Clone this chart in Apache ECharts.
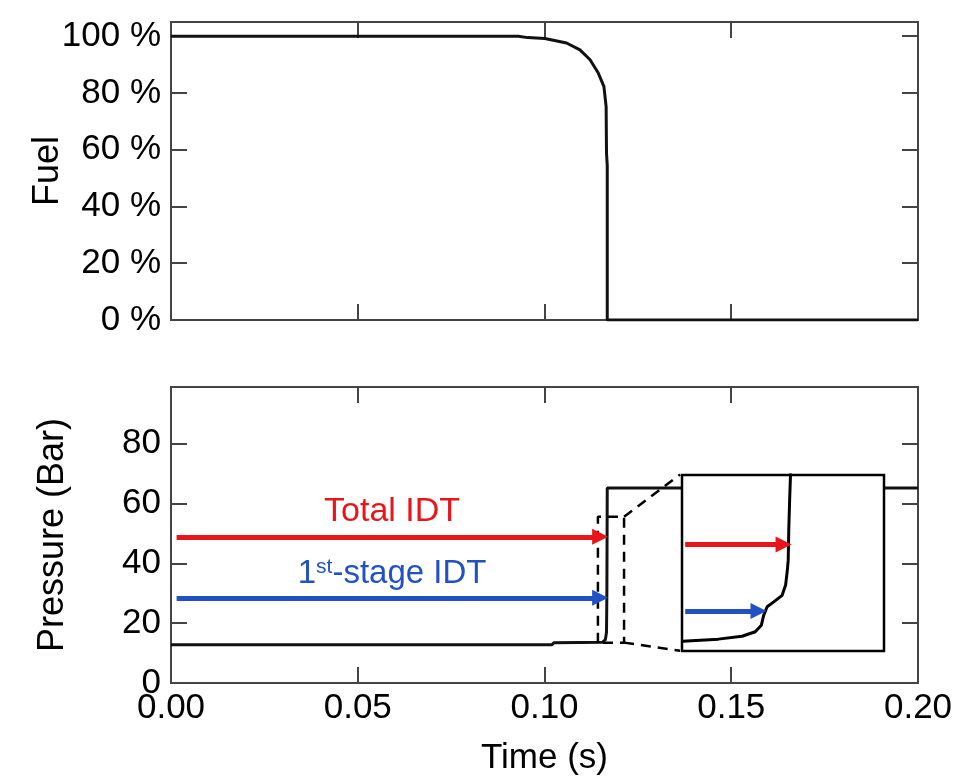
<!DOCTYPE html>
<html><head><meta charset="utf-8">
<script src="https://cdn.jsdelivr.net/npm/echarts@6/dist/echarts.min.js"></script>
<style>html,body{margin:0;padding:0;background:#fff}#c{width:962px;height:779px}</style>
</head><body><div id="c"></div>
<script>
// ---------- data ----------
const timeTicks = [0, 0.05, 0.10, 0.15, 0.20];
const fuelTicks = [0, 20, 40, 60, 80, 100];
const pressureTicks = [0, 20, 40, 60, 80];

// Fuel (%) vs time (s)
const fuelTime  = [0, 0.0930, 0.0955, 0.1001, 0.1059, 0.1095, 0.1122, 0.1144, 0.1159, 0.1165, 0.1166, 0.1168, 0.1168, 0.2];
const fuelValue = [100, 100, 99.5, 99.2, 97.6, 95.2, 91.7, 87.0, 82.3, 75.2, 58.8, 54.6, 0, 0];

// Pressure (bar) vs time (s)
const pressTime  = [0, 0.1020, 0.1025, 0.1155, 0.1163, 0.1166, 0.1167, 0.1168, 0.2];
const pressValue = [12.8, 12.8, 13.5, 13.6, 14.5, 17, 30, 65.2, 65.2];

// Magnified view (inset) of the ignition region
const insetTime  = [0.11432, 0.11556, 0.11638, 0.11684, 0.11705, 0.11713, 0.11725, 0.11748, 0.11777, 0.11789, 0.11795, 0.11798, 0.11800, 0.11803, 0.11806, 0.11808];
const insetValue = [15.4, 15.9, 16.6, 17.7, 19.3, 21.7, 23.8, 25.0, 26.6, 29.1, 32.7, 35.2, 42.5, 49.9, 56.0, 62];
const insetTimeRange = [0.1143, 0.1213];
const insetPressureRange = [13, 56];

// zoom rectangle and connectors (time, pressure)
const zoomBoxTime = [0.1143, 0.1213];
const zoomBoxPressure = [13.5, 55.6];
const connectorTop = [[0.1213, 55.6], [0.1363, 69.7]];
const connectorBottom = [[0.1213, 13.5], [0.1363, 10.8]];

// IDT arrows (time, pressure)
const totalIdtArrow = [[0.0015, 48.9], [0.1149, 48.9]];
const firstIdtArrow = [[0.0015, 28.5], [0.1149, 28.5]];
const totalIdtInset = [[0.11441, 39.0], [0.11782, 39.0]];
const firstIdtInset = [[0.11441, 22.8], [0.11695, 22.8]];
const totalIdtLabel = [0.0592, 57.3];
const firstIdtLabel = [0.0592, 36.4];

// ---------- chart ----------
const FONT = 'Liberation Sans, Arial, Helvetica, sans-serif';
const RED = '#e8151b', BLUE = '#2251c4', AX = '#444';
const zip = (a, b) => a.map((v, i) => [v, b[i]]);
const tick = {show: true, inside: true, length: 16, lineStyle: {color: AX, width: 2}};
const noLine = {show: false, onZero: false};

const chart = echarts.init(document.getElementById('c'), null, {renderer: 'canvas'});
chart.setOption({
  animation: false,
  backgroundColor: '#fff',
  textStyle: {fontFamily: FONT},
  grid: [
    {left: 171, top: 22, width: 747, height: 298, show: true, borderColor: AX, borderWidth: 2},
    {left: 171, top: 387, width: 747, height: 296, show: true, borderColor: AX, borderWidth: 2},
    {left: 682, top: 475, width: 202, height: 176, show: true, z: 10, backgroundColor: '#fff', borderColor: '#000', borderWidth: 2.5}
  ],
  xAxis: [
    {gridIndex: 0, type: 'value', min: 0, max: 0.2, interval: 0.05, axisLine: noLine, axisTick: tick, axisLabel: {show: false}, splitLine: {show: false}},
    {gridIndex: 0, type: 'value', position: 'top', min: 0, max: 0.2, interval: 0.05, axisLine: noLine, axisTick: tick, axisLabel: {show: false}, splitLine: {show: false}},
    {gridIndex: 1, type: 'value', min: 0, max: 0.2, interval: 0.05, axisLine: noLine, axisTick: tick,
      axisLabel: {fontSize: 35, color: '#000', margin: 8, fontFamily: FONT,
        formatter: v => timeTicks.some(t => Math.abs(t - v) < 1e-9) ? v.toFixed(2) : ''},
      splitLine: {show: false},
      name: 'Time (s)', nameLocation: 'middle', nameGap: 58, nameMoveOverlap: false,
      nameTextStyle: {fontSize: 35, color: '#000', fontFamily: FONT}},
    {gridIndex: 1, type: 'value', position: 'top', min: 0, max: 0.2, interval: 0.05, axisLine: noLine, axisTick: tick, axisLabel: {show: false}, splitLine: {show: false}},
    {gridIndex: 2, type: 'value', min: insetTimeRange[0], max: insetTimeRange[1], show: false}
  ],
  yAxis: [
    {gridIndex: 0, type: 'value', min: 0, max: 105, interval: 20, axisLine: noLine, axisTick: tick,
      axisLabel: {fontSize: 35, color: '#000', margin: 10, fontFamily: FONT,
        formatter: v => fuelTicks.includes(v) ? v + ' %' : ''},
      splitLine: {show: false},
      name: 'Fuel', nameLocation: 'middle', nameGap: 105, nameMoveOverlap: false,
      nameTextStyle: {fontSize: 36, color: '#000', fontFamily: FONT}},
    {gridIndex: 0, type: 'value', position: 'right', min: 0, max: 105, interval: 20, axisLine: noLine, axisTick: tick, axisLabel: {show: false}, splitLine: {show: false}},
    {gridIndex: 1, type: 'value', min: 0, max: 99, interval: 20, axisLine: noLine, axisTick: tick,
      axisLabel: {fontSize: 35, color: '#000', margin: 10, fontFamily: FONT,
        formatter: v => pressureTicks.includes(v) ? String(v) : ''},
      splitLine: {show: false},
      name: 'Pressure (Bar)', nameLocation: 'middle', nameGap: 100, nameMoveOverlap: false,
      nameTextStyle: {fontSize: 36, color: '#000', fontFamily: FONT}},
    {gridIndex: 1, type: 'value', position: 'right', min: 0, max: 99, interval: 20, axisLine: noLine, axisTick: tick, axisLabel: {show: false}, splitLine: {show: false}},
    {gridIndex: 2, type: 'value', min: insetPressureRange[0], max: insetPressureRange[1], show: false}
  ],
  series: [
    {type: 'line', xAxisIndex: 0, yAxisIndex: 0, data: zip(fuelTime, fuelValue), showSymbol: false, symbol: 'none',
      lineStyle: {color: '#111', width: 3}, z: 3},
    {type: 'line', xAxisIndex: 2, yAxisIndex: 2, data: zip(pressTime, pressValue), showSymbol: false, symbol: 'none',
      lineStyle: {color: '#111', width: 3}, z: 3,
      markLine: {
        silent: true, symbol: ['none', 'triangle'], symbolSize: 16, label: {show: false}, z: 6,
        data: [
          [{coord: totalIdtArrow[0], lineStyle: {color: RED, width: 5, type: 'solid'}, itemStyle: {color: RED}}, {coord: totalIdtArrow[1]}],
          [{coord: firstIdtArrow[0], lineStyle: {color: BLUE, width: 5, type: 'solid'}, itemStyle: {color: BLUE}}, {coord: firstIdtArrow[1]}]
        ]
      },
      markPoint: {
        silent: true, symbol: 'rect', symbolSize: 0, z: 6,
        data: [
          {coord: totalIdtLabel, label: {show: true, position: 'inside', formatter: 'Total IDT', color: RED, fontSize: 34, fontFamily: FONT}},
          {coord: firstIdtLabel, label: {show: true, position: 'inside', formatter: '{n|1}{s|st}{n|-stage IDT}',
            rich: {n: {fontSize: 33, color: BLUE, fontFamily: FONT, lineHeight: 35},
                   s: {fontSize: 21, color: BLUE, fontFamily: FONT, verticalAlign: 'top', lineHeight: 21}}}}
        ]
      }
    },
    {type: 'line', xAxisIndex: 2, yAxisIndex: 2, symbol: 'none', z: 4,
      data: [[zoomBoxTime[0], zoomBoxPressure[0]], [zoomBoxTime[0], zoomBoxPressure[1]], [zoomBoxTime[1], zoomBoxPressure[1]],
             [zoomBoxTime[1], zoomBoxPressure[0]], [zoomBoxTime[0], zoomBoxPressure[0]]],
      lineStyle: {color: '#000', width: 2.5, type: [10, 7]}},
    {type: 'line', xAxisIndex: 2, yAxisIndex: 2, symbol: 'none', z: 4, clip: false, data: connectorTop,
      lineStyle: {color: '#000', width: 2.5, type: [10, 7]}},
    {type: 'line', xAxisIndex: 2, yAxisIndex: 2, symbol: 'none', z: 4, clip: false, data: connectorBottom,
      lineStyle: {color: '#000', width: 2.5, type: [10, 7]}},
    {type: 'line', xAxisIndex: 4, yAxisIndex: 4, data: zip(insetTime, insetValue), symbol: 'none', clip: true,
      lineStyle: {color: '#000', width: 3}, z: 20,
      markLine: {
        silent: true, symbol: ['none', 'triangle'], symbolSize: 16, label: {show: false}, z: 30,
        data: [
          [{coord: totalIdtInset[0], lineStyle: {color: RED, width: 5, type: 'solid'}, itemStyle: {color: RED}}, {coord: totalIdtInset[1]}],
          [{coord: firstIdtInset[0], lineStyle: {color: BLUE, width: 5, type: 'solid'}, itemStyle: {color: BLUE}}, {coord: firstIdtInset[1]}]
        ]
      }
    }
  ]
});
</script></body></html>
